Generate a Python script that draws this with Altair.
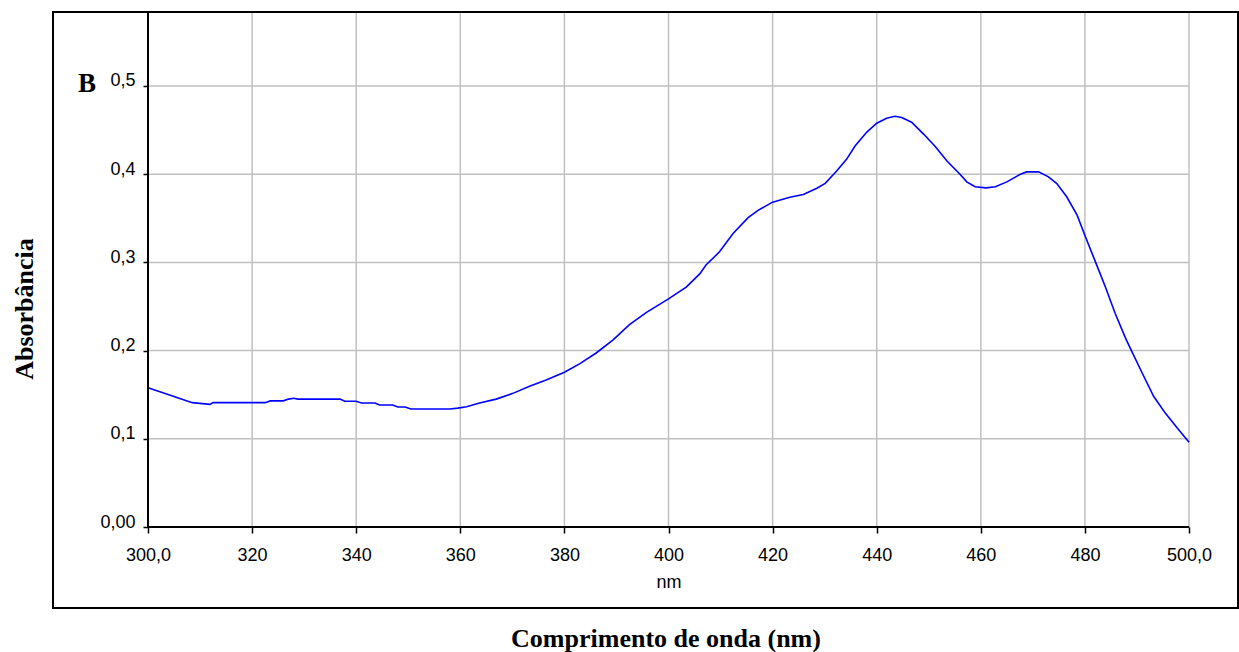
import altair as alt
import pandas as pd

# Absorption spectrum (wavelength in nm, absorbance)
wavelength = [300, 302, 305, 308.5, 311.9, 312.5, 322.5, 323.5, 326, 327, 328, 328.8,
              336.9, 337.8, 340, 341, 343.6, 344.5, 347, 348, 349.4, 350.5, 358, 359.5,
              361.2, 363.7, 366.9, 370.1, 373.3, 376.5, 380, 382.9, 386.1, 389.3, 392.5,
              395.7, 400, 403.4, 406, 407.2, 409.8, 412.4, 415.3, 417.2, 420, 423.3,
              425.9, 428.5, 430.1, 432.3, 434.2, 435.8, 438.1, 440, 441.9, 443.5, 444.8,
              446.7, 449, 451.2, 453.5, 456, 457.3, 458.9, 461, 462.8, 465, 467.6, 468.8,
              471.1, 473, 474.6, 476.5, 478.5, 480.1, 482, 483.9, 485.8, 487.8, 489, 491,
              493.2, 495.4, 497.7, 500]
absorbance = [0.158, 0.154, 0.148, 0.141, 0.139, 0.141, 0.141, 0.143, 0.143, 0.145, 0.146, 0.145,
              0.145, 0.1425, 0.1425, 0.1406, 0.1406, 0.1383, 0.1383, 0.136, 0.136, 0.1338, 0.1338, 0.1348,
              0.1364, 0.1405, 0.145, 0.1515, 0.1595, 0.1667, 0.1754, 0.185, 0.1973, 0.212, 0.2295,
              0.243, 0.2587, 0.272, 0.287, 0.297, 0.312, 0.3328, 0.3507, 0.359, 0.3683, 0.3739,
              0.3769, 0.384, 0.3896, 0.4037, 0.4168, 0.4317, 0.4478, 0.4578, 0.4634, 0.4657, 0.4642,
              0.459, 0.4455, 0.4317, 0.4149, 0.4, 0.3913, 0.3857, 0.3845, 0.3857, 0.3913, 0.4, 0.4026,
              0.4026, 0.397, 0.3894, 0.3744, 0.3536, 0.3291, 0.3009, 0.2726, 0.2424, 0.2142, 0.1991, 0.1746,
              0.1482, 0.1294, 0.1124, 0.0962]

x_ticks = [300, 320, 340, 360, 380, 400, 420, 440, 460, 480, 500]
y_ticks = [0.0, 0.1, 0.2, 0.3, 0.4, 0.5]

spectrum = pd.DataFrame({"nm": wavelength, "abs": absorbance})
xgrid = pd.DataFrame({"nm": x_ticks[1:]})
ygrid = pd.DataFrame({"abs": y_ticks[1:]})

W, H = 1090, 515
xscale = alt.Scale(domain=[300, 509.41], nice=False, zero=False)
yscale = alt.Scale(domain=[0, 0.5839], nice=False, zero=True)

GRID = "#c0c0c0"
SANS = "Liberation Sans"
SERIF = "Liberation Serif"

x_axis = alt.Axis(
    values=x_ticks, grid=False, domain=False, tickColor="black", tickSize=6, tickWidth=1.5,
    labelFont=SANS, labelFontSize=18, labelColor="black", labelPadding=13,
    labelExpr="(datum.value == 300 || datum.value == 500) ? replace(format(datum.value, '.1f'), '.', ',') : format(datum.value, 'd')",
    title="nm", titleFont=SANS, titleFontSize=18, titleFontWeight="normal", titleColor="black",
    titleX=520.5, titleY=60, titleBaseline="alphabetic", titleAlign="center", labelFlush=False,
)
y_axis = alt.Axis(
    values=y_ticks, grid=False, domain=False, tickColor="black", tickSize=5, tickWidth=1.5,
    labelFont=SANS, labelFontSize=18, labelColor="black", labelPadding=8,
    labelBaseline="alphabetic", labelFlush=False,
    labelExpr="datum.value == 0 ? '0,00' : replace(format(datum.value, '.1f'), '.', ',')",
    title=None,
)

vgrid = alt.Chart(xgrid).mark_rule(color=GRID, strokeWidth=1.5).encode(
    x=alt.X("nm:Q", scale=xscale, axis=x_axis)
)
hgrid = alt.Chart(ygrid).mark_rule(color=GRID, strokeWidth=1.5).encode(
    y=alt.Y("abs:Q", scale=yscale, axis=y_axis),
    x=alt.datum(300, scale=xscale),
    x2=alt.datum(500),
)

line = alt.Chart(spectrum).mark_line(color="#0000ff", strokeWidth=1.6, interpolate="linear").encode(
    x=alt.X("nm:Q", scale=xscale, axis=x_axis),
    y=alt.Y("abs:Q", scale=yscale, axis=y_axis),
)

# axis lines
x_line = alt.Chart(xgrid).mark_rule(color="black", strokeWidth=1.8).encode(
    x=alt.datum(300, scale=xscale), x2=alt.datum(500), y=alt.datum(0, scale=yscale)
)
y_line = alt.Chart(xgrid).mark_rule(color="black", strokeWidth=1.8).encode(
    x=alt.datum(300, scale=xscale)
)

# outer frame around the chart
frame = alt.Chart(xgrid).mark_rect(filled=False, stroke="black", strokeWidth=1.8).encode(
    x=alt.value(-95), x2=alt.value(1090), y=alt.value(0), y2=alt.value(596)
)

labels = pd.DataFrame({"t": ["B"]})
panel_letter = alt.Chart(labels).mark_text(
    font=SERIF, fontSize=27, fontWeight="bold", align="left", baseline="alphabetic", color="black"
).encode(x=alt.value(-70), y=alt.value(80), text=alt.value("B"))

y_title = alt.Chart(labels).mark_text(
    font=SERIF, fontSize=26, fontWeight="bold", angle=270, align="center", baseline="middle", color="black"
).encode(x=alt.value(-123), y=alt.value(297), text=alt.value("Absorbância"))

x_title = alt.Chart(labels).mark_text(
    font=SERIF, fontSize=26, fontWeight="bold", align="center", baseline="alphabetic", color="black"
).encode(x=alt.value(518), y=alt.value(635), text=alt.value("Comprimento de onda (nm)"))

chart = alt.layer(
    vgrid, hgrid, line, x_line, y_line, frame, panel_letter, y_title, x_title
).properties(
    width=W, height=H,
    autosize=alt.AutoSizeParams(type="none"),
    padding={"left": 148, "top": 12, "right": 1, "bottom": 125},
    background="white",
).configure_view(stroke=None)

chart.save("out.html", embed_options={"renderer": "svg", "actions": False})
